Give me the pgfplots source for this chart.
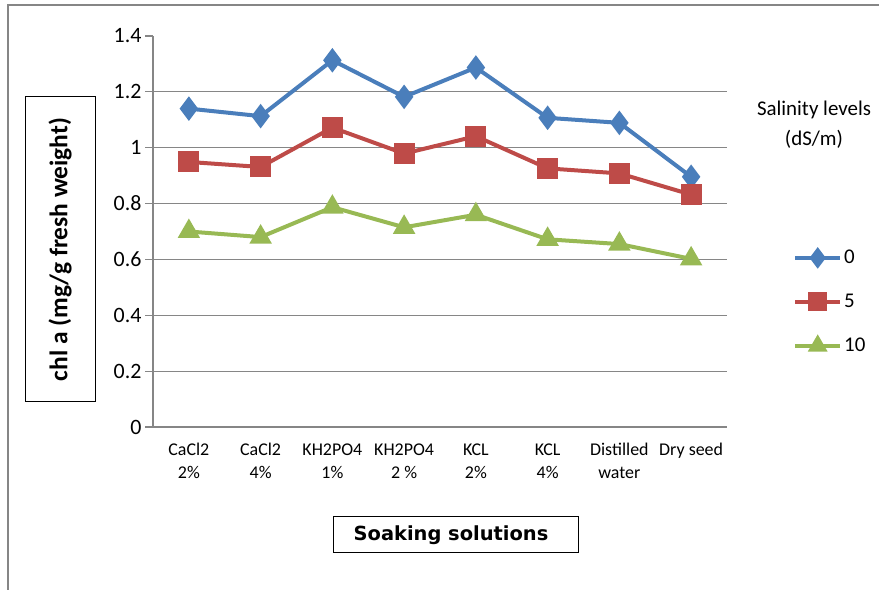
\documentclass[border=0pt]{standalone}
\usepackage{fontspec}
\setmainfont{Carlito}
\newfontfamily\verd{DejaVu Sans}
\usepackage{pgfplots}
\pgfplotsset{compat=1.18}
\definecolor{sblue}{RGB}{74,126,187}
\definecolor{sred}{RGB}{190,75,72}
\definecolor{sgreen}{RGB}{152,185,84}
\definecolor{axgray}{RGB}{134,134,134}
\begin{document}
\begin{tikzpicture}
\useasboundingbox (0,0) rectangle (879bp,590bp);
\draw[color=axgray, line width=1.2bp] (8bp,0bp) -- (8bp,585bp) -- (879bp,585bp);
\node[draw=black, line width=1bp, minimum width=70bp, minimum height=305bp, inner sep=0pt] at (60bp,340.5bp) {};
\node[rotate=90, font=\bfseries\fontsize{25.5}{30}\selectfont, inner sep=0pt] at (60bp,340.5bp) {chl a (mg/g fresh weight)};
\node[draw=black, line width=1bp, minimum width=245bp, minimum height=36bp, inner sep=0pt] at (455.5bp,55bp) {};
\node[font=\verd\bfseries\fontsize{19.5}{22}\selectfont, inner sep=0pt] at (451bp,55bp) {Soaking solutions};
\node[align=center, font=\fontsize{21}{30}\selectfont, inner sep=0pt] at (814bp,465bp) {Salinity levels\\(dS/m)};
\begin{axis}[
  at={(153bp,163bp)}, anchor=south west,
  width=574bp, height=391bp, scale only axis,
  xmin=-0.5, xmax=7.5, ymin=0, ymax=1.4,
  axis x line*=bottom, axis y line*=left,
  axis line style={draw=axgray, line width=1.2bp, -},
  tick align=outside, major tick length=8bp,
  tick style={draw=axgray, line width=1.2bp},
  xtick={0,...,7},
  xticklabels={{CaCl2\\2\%},{CaCl2\\4\%},{KH2PO4\\1\%},{KH2PO4\\2 \%},{KCL\\2\%},{KCL\\4\%},{Distilled\\water},{Dry seed}},
  xticklabel style={align=center, font=\fontsize{18}{23}\selectfont, yshift=-5bp},
  xtick style={draw=none},
  extra x ticks={-0.5,0.5,1.5,2.5,3.5,4.5,5.5,6.5,7.5},
  extra x tick labels={},
  extra x tick style={major tick length=7bp, tick style={draw=axgray, line width=1.2bp}, grid=none},
  ytick={0,0.2,0.4,0.6,0.8,1.0,1.2},
  extra y ticks={1.4},
  extra y tick style={grid=none},
  ymajorgrids, grid style={draw=axgray, line width=1.2bp},
  yticklabel style={font=\fontsize{22}{22}\selectfont},
  /pgf/number format/assume math mode=true,
  /pgf/number format/fixed,
  legend style={at={(1.115,0.32)}, anchor=west, draw=none, fill=none,
    font=\fontsize{21}{21}\selectfont, row sep=25bp, inner sep=0pt},
  legend cell align=left,
  legend image code/.code={\draw[mark repeat=2,mark phase=2,#1,mark size=7.5bp] plot coordinates {(0bp,0bp) (22.5bp,0bp) (45bp,0bp)};},
]
\addplot[sblue, line width=4bp, mark=diamond*, mark size=9bp, mark options={solid}] coordinates {
(0,1.14) (1,1.113) (2,1.313) (3,1.182) (4,1.287) (5,1.107) (6,1.089) (7,0.896)};
\addlegendentry{0}
\addplot[sred, line width=4bp, mark=square*, mark size=8.5bp] coordinates {
(0,0.949) (1,0.931) (2,1.072) (3,0.979) (4,1.041) (5,0.926) (6,0.908) (7,0.832)};
\addlegendentry{5}
\addplot[sgreen, line width=4bp, mark=triangle*, mark size=9bp] coordinates {
(0,0.70) (1,0.68) (2,0.787) (3,0.715) (4,0.76) (5,0.672) (6,0.655) (7,0.602)};
\addlegendentry{10}
\end{axis}
\end{tikzpicture}
\end{document}
